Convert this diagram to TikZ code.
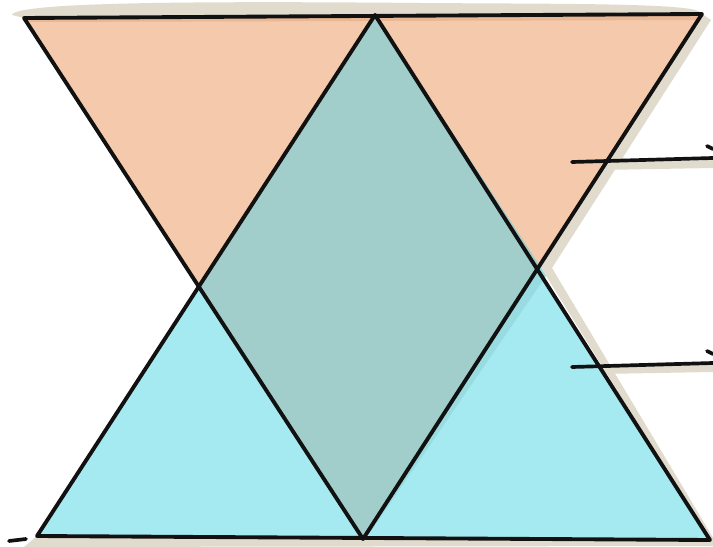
\documentclass[tikz,border=0pt]{standalone}
\usepackage{xcolor}
\usepackage{tikz}
\usetikzlibrary{calc}
\definecolor{skOrange}{HTML}{F5C9AB}
\definecolor{skOrangeDark}{HTML}{E9B793}
\definecolor{skCyan}{HTML}{A6EAF1}
\definecolor{skCyanDark}{HTML}{98DCE2}
\definecolor{skTeal}{HTML}{A1CECA}
\definecolor{skShadow}{HTML}{E0DBCC}
\definecolor{skInk}{HTML}{111111}

\begin{document}
\begin{tikzpicture}[x=0.02cm, y=-0.02cm]
\tikzset{ink/.style={draw=skInk, line width=2.2pt, line join=round, line cap=round},
 shadow/.style={fill=skShadow, draw=none},
 leader/.style={ink, line width=2.1pt}}
\useasboundingbox (0,0) rectangle (713,547);

% corners of the two triangles
\coordinate (oTL) at (24,18);
\coordinate (oTR) at (702,14);
\coordinate (oB)  at (363,539);
\coordinate (cT)  at (375,15);
\coordinate (cBL) at (37,536);
\coordinate (cBR) at (710,540);
\coordinate (mL)  at (197,287);
\coordinate (mR)  at (540,266);

% shadows
\fill[shadow] (12,15) .. controls (14,2) and (200,1) .. (420,3)
  .. controls (560,4) and (690,3) .. (700,12) -- (24,18) -- cycle;
\fill[shadow] ($(oTR)+(9,6)$) -- ($(mR)+(12,2)$) -- ($(cBR)+(8,6)$) -- (24,547)
  -- (cBL) -- (cBR) -- (mR) -- (oTR) -- cycle;
\fill[shadow] (590,163) -- (713,160) -- (713,168) -- (600,170) -- cycle;
\fill[shadow] (585,369) .. controls (620,362) and (680,362) .. (713,362)
  -- (713,372) -- (600,374) -- cycle;

% fills
\fill[skOrange] (oTL) -- (oTR) -- (oB) -- cycle;
\fill[skOrangeDark] (oTL) -- (oTR) -- ($(oTR)+(-3,6)$) -- ($(oTL)+(4,4)$) -- cycle;
\fill[skCyan] (cT) -- (cBR) -- (cBL) -- cycle;
\fill[skCyanDark] (mR) -- ($(mR)+(6,10)$) -- ($(oB)+(8,-8)$) -- (oB) -- cycle;
\fill[skTeal] (cT) -- (mR) -- (oB) -- (mL) -- cycle;

% outlines
\draw[ink] (oTL) -- (oTR) -- (oB) -- cycle;
\draw[ink] (cT) -- (cBR) -- (cBL) -- cycle;

% leader lines
\draw[leader] (572,162) -- (713,158);
\draw[leader] (707,146) -- (713,149);
\draw[leader] (572,367) -- (713,363);
\draw[leader] (707,351) -- (713,354);
\draw[leader] (9,541) -- (26,539);
\end{tikzpicture}
\end{document}
